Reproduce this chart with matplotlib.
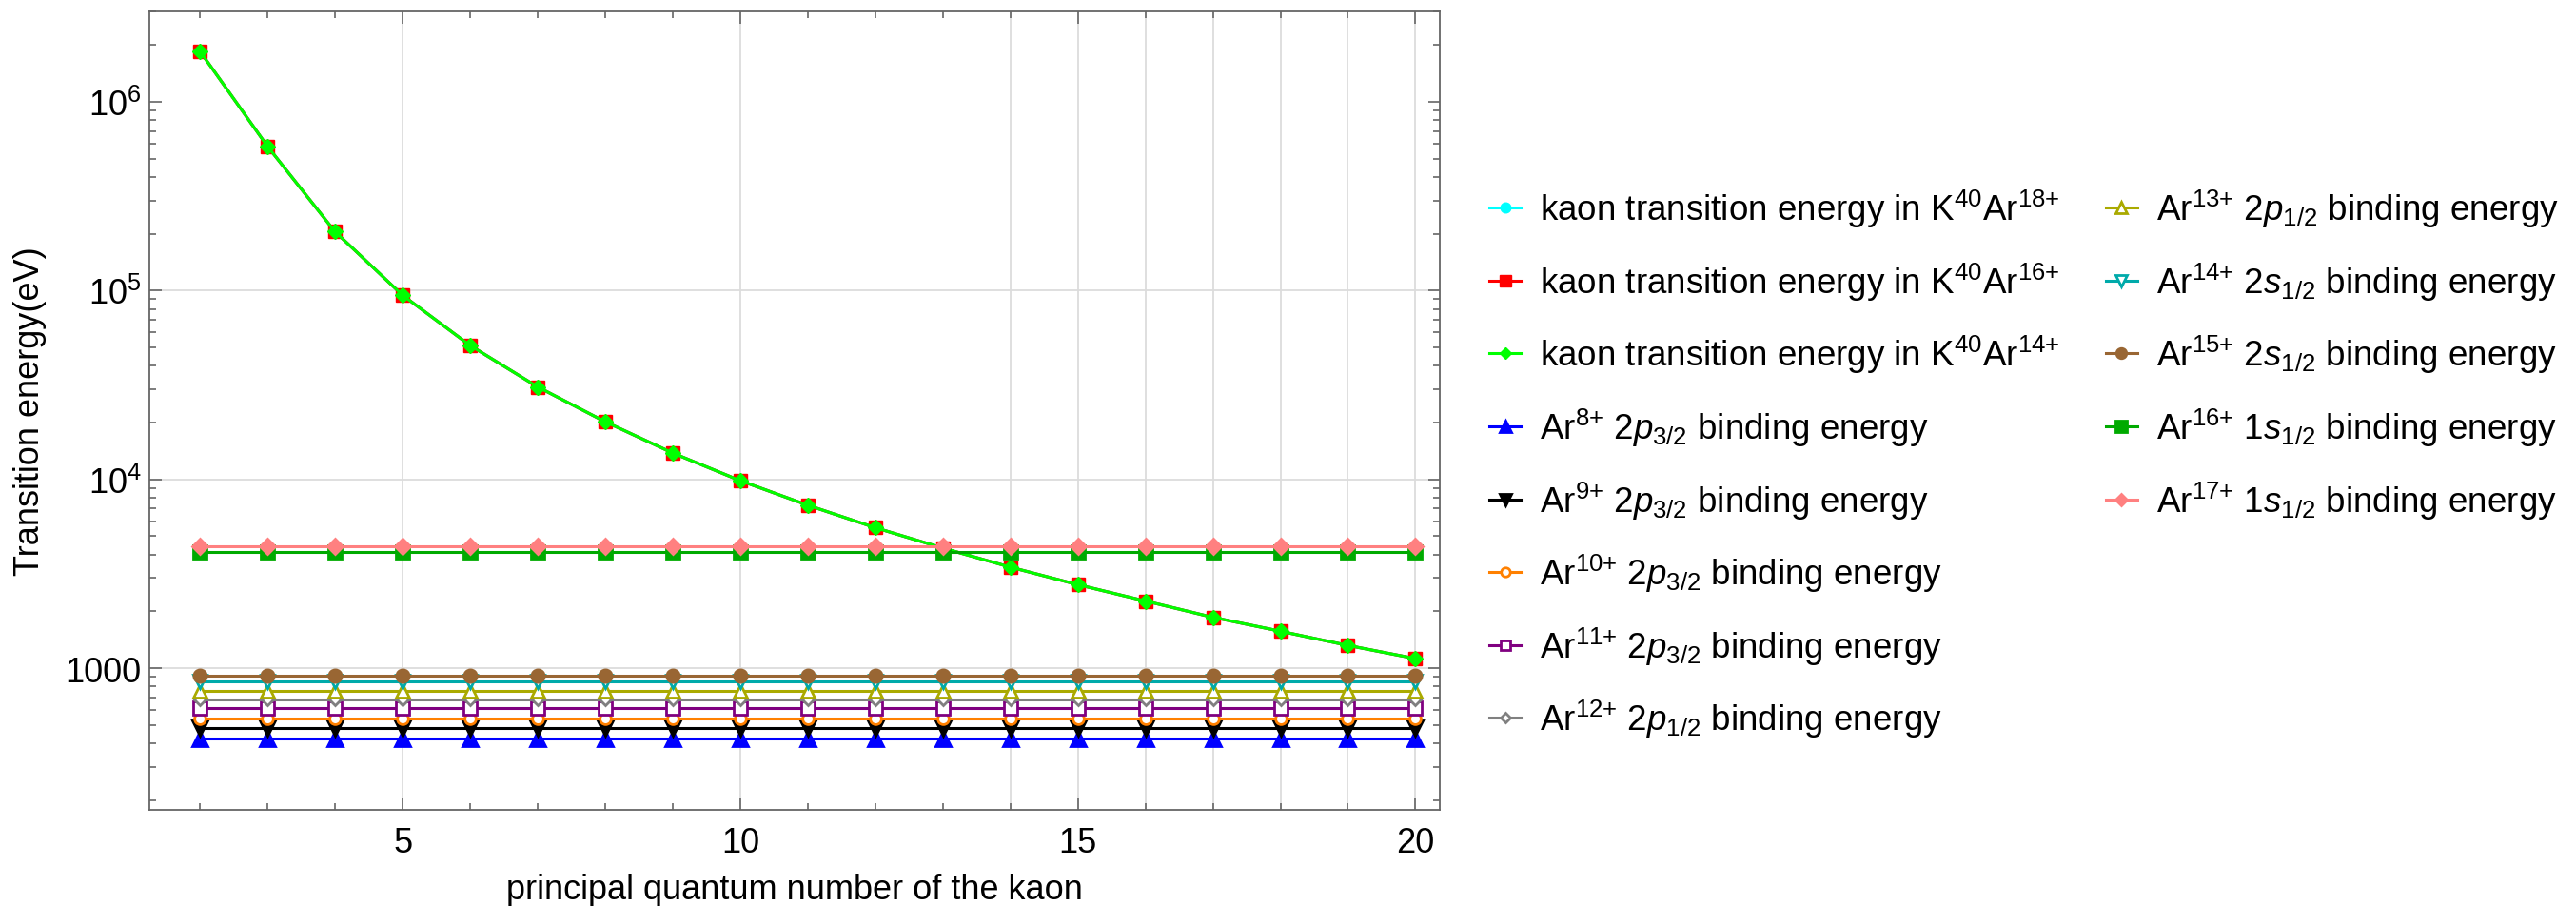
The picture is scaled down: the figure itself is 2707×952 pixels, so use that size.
import matplotlib
matplotlib.use("Agg")
import matplotlib.pyplot as plt
from matplotlib.lines import Line2D
from matplotlib.ticker import FixedLocator, LogLocator, NullFormatter

plt.rcParams["font.family"] = ["Liberation Sans", "DejaVu Sans"]
plt.rcParams["mathtext.fontset"] = "custom"
plt.rcParams["mathtext.rm"] = "Liberation Sans"
plt.rcParams["mathtext.it"] = "Liberation Sans:italic"
plt.rcParams["mathtext.bf"] = "Liberation Sans:bold"

# principal quantum number of the kaon
n_kaon = [2, 3, 4, 5, 6, 7, 8, 9, 10, 11, 12, 13, 14, 15, 16, 17, 18, 19, 20]

# kaon transition energies (eV) (the three curves overlap)
kaon_ar18 = [1.85e6, 5.80e5, 2.05e5, 9.45e4, 5.12e4, 3.09e4, 2.02e4, 1.38e4, 9850,
             7300, 5550, 4330, 3430, 2770, 2270, 1860, 1570, 1320, 1125]
kaon_ar16 = [1.85e6, 5.80e5, 2.05e5, 9.45e4, 5.12e4, 3.09e4, 2.02e4, 1.38e4, 9850,
             7300, 5550, 4330, 3430, 2770, 2270, 1860, 1570, 1320, 1125]
kaon_ar14 = [1.85e6, 5.80e5, 2.05e5, 9.45e4, 5.12e4, 3.09e4, 2.02e4, 1.38e4, 9850,
             7300, 5550, 4330, 3430, 2770, 2270, 1860, 1570, 1320, 1125]
kaon_labels = [r"kaon transition energy in K$^{40}$Ar$^{18{+}}$",
               r"kaon transition energy in K$^{40}$Ar$^{16{+}}$",
               r"kaon transition energy in K$^{40}$Ar$^{14{+}}$"]

# electron binding energies of the argon ions (eV)
ion_labels = [r"Ar$^{8{+}}$ 2$p_{3/2}$ binding energy",
              r"Ar$^{9{+}}$ 2$p_{3/2}$ binding energy",
              r"Ar$^{10{+}}$ 2$p_{3/2}$ binding energy",
              r"Ar$^{11{+}}$ 2$p_{3/2}$ binding energy",
              r"Ar$^{12{+}}$ 2$p_{1/2}$ binding energy",
              r"Ar$^{13{+}}$ 2$p_{1/2}$ binding energy",
              r"Ar$^{14{+}}$ 2$s_{1/2}$ binding energy",
              r"Ar$^{15{+}}$ 2$s_{1/2}$ binding energy",
              r"Ar$^{16{+}}$ 1$s_{1/2}$ binding energy",
              r"Ar$^{17{+}}$ 1$s_{1/2}$ binding energy"]
binding_energy = [422, 480, 539, 618, 686, 755, 855, 918, 4121, 4426]

# styles
kaon_colors = ["#00ffff", "#ff0000", "#00ff00"]
kaon_markers = ["o", "s", "D"]
kaon_ms = [9.5, 10.5, 8]
ion_colors = ["#0000ff", "#000000", "#ff8000", "#800080", "#808080",
              "#aaaa00", "#00aaaa", "#996633", "#00aa00", "#ff8080"]
ion_markers = ["^", "v", "o", "s", "D", "^", "v", "o", "s", "D"]
ion_filled = [True, True, False, False, False, False, False, True, True, True]
ion_ms = [11, 11, 8.5, 9.5, 6, 10, 10, 9.5, 10.5, 8]

fig = plt.figure(figsize=(27.07, 9.53), dpi=100)
ax = fig.add_axes([157 / 2707, 101 / 953, 1356 / 2707, 839 / 953])

# grid lines
x_grid = [5, 10, 14, 15, 16, 17, 18, 19, 20]
y_grid = [1e3, 1e4, 1e5]
for xg in x_grid:
    ax.axvline(xg, color="#dcdcdc", lw=1.3, zorder=0)
for yg in y_grid:
    ax.axhline(yg, color="#dcdcdc", lw=1.3, zorder=0)

handles = []
for vals, col, mk, ms, lab in zip([kaon_ar18, kaon_ar16, kaon_ar14], kaon_colors,
                                  kaon_markers, kaon_ms, kaon_labels):
    h, = ax.plot(n_kaon, vals, color=col, marker=mk, ms=ms, mec=col, mfc=col,
                 lw=2.2, label=lab, zorder=3)
    handles.append(h)

for e, col, mk, filled, ms, lab in zip(binding_energy, ion_colors, ion_markers,
                                       ion_filled, ion_ms, ion_labels):
    h, = ax.plot(n_kaon, [e] * len(n_kaon), color=col, marker=mk, ms=ms, mec=col,
                 mfc=col if filled else "white", mew=2.0, lw=2.2, label=lab, zorder=4)
    handles.append(h)

ax.set_yscale("log")
ax.set_xlim(1.25, 20.36)
ax.set_ylim(177.7, 3.01e6)

ax.xaxis.set_major_locator(FixedLocator([5, 10, 15, 20]))
ax.xaxis.set_minor_locator(FixedLocator([2, 3, 4, 6, 7, 8, 9, 11, 12, 13, 14, 16, 17, 18, 19]))
ax.set_xticklabels(["5", "10", "15", "20"])
ax.yaxis.set_major_locator(FixedLocator([1e3, 1e4, 1e5, 1e6]))
ax.set_yticklabels(["1000", r"$10^{4}$", r"$10^{5}$", r"$10^{6}$"])
ax.yaxis.set_minor_locator(LogLocator(base=10, subs=[2, 3, 4, 5, 6, 7, 8, 9], numticks=20))
ax.yaxis.set_minor_formatter(NullFormatter())

ax.tick_params(which="both", direction="in", top=True, right=True, color="#666666",
               width=1.2, labelsize=26, labelcolor="black")
ax.tick_params(which="major", length=9)
ax.tick_params(which="minor", length=5)
ax.tick_params(axis="y", pad=6)
ax.tick_params(axis="x", pad=12)
for sp in ax.spines.values():
    sp.set_color("#666666")
    sp.set_linewidth(1.3)

ax.set_xlabel("principal quantum number of the kaon", fontsize=26, labelpad=10)
ax.set_ylabel("Transition energy(eV)", fontsize=26, labelpad=14)

# legend: 8 entries in the first column, 5 in the second
blank = [Line2D([], [], linestyle="none") for _ in range(3)]
leg_labels = [h.get_label() for h in handles] + ["", "", ""]
fig.legend(handles + blank, leg_labels, ncol=2, loc="upper left",
           bbox_to_anchor=(1565 / 2707, 1 - 198 / 953), frameon=False,
           fontsize=26.5, handlelength=0.9, handletextpad=0.55, columnspacing=1.3,
           labelspacing=0.88, markerscale=0.8, borderpad=0, borderaxespad=0)

fig.savefig("out.png", dpi=100)
